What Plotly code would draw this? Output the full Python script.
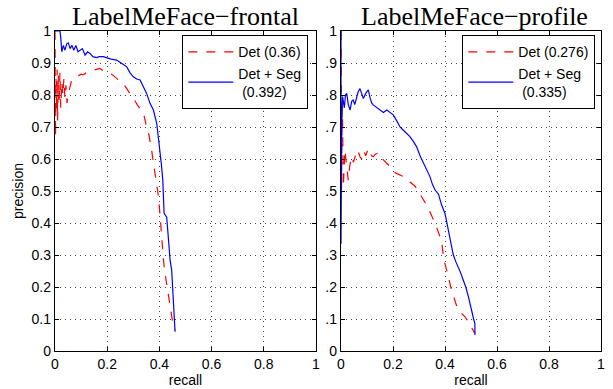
import plotly.graph_objects as go

# ---- data: LabelMeFace-frontal ----
fr_det_r = [0, 0.002, 0.004, 0.006, 0.008, 0.01, 0.013, 0.016, 0.019, 0.022, 0.026, 0.03, 0.034, 0.038,
            0.042, 0.046, 0.05, 0.055, 0.06, 0.064, 0.07, 0.08, 0.09, 0.1, 0.108, 0.12, 0.135, 0.15, 0.165,
            0.172, 0.185, 0.2, 0.21, 0.222, 0.235, 0.25, 0.26, 0.275, 0.29, 0.30, 0.315, 0.33, 0.34, 0.351,
            0.36, 0.37, 0.38, 0.39, 0.395, 0.402, 0.408, 0.415, 0.42, 0.427, 0.434, 0.44, 0.447, 0.453, 0.46]
fr_det_p = [1.0, 0.67, 0.85, 0.75, 0.88, 0.72, 0.86, 0.78, 0.87, 0.76, 0.84, 0.8, 0.85, 0.79,
            0.83, 0.775, 0.8, 0.82, 0.83, 0.847, 0.85, 0.855, 0.86, 0.865, 0.863, 0.87, 0.875, 0.878, 0.882,
            0.883, 0.876, 0.872, 0.868, 0.862, 0.852, 0.842, 0.836, 0.82, 0.80, 0.79, 0.77, 0.75, 0.74, 0.70,
            0.675, 0.628, 0.57, 0.52, 0.49, 0.43, 0.35, 0.29, 0.25, 0.21, 0.17, 0.14, 0.11, 0.081, 0.065]

fr_seg_r = [0, 0.019, 0.022, 0.026, 0.032, 0.038, 0.045, 0.051, 0.058, 0.065, 0.072, 0.08, 0.088, 0.096,
            0.105, 0.115, 0.125, 0.134, 0.145, 0.159, 0.17, 0.185, 0.2, 0.215, 0.236, 0.25, 0.262, 0.275,
            0.287, 0.30, 0.313, 0.326, 0.338, 0.351, 0.364, 0.377, 0.39, 0.396, 0.402, 0.408, 0.413, 0.418,
            0.428, 0.434, 0.441, 0.447, 0.453, 0.457, 0.46]
fr_seg_p = [1.0, 1.0, 0.98, 0.935, 0.955, 0.94, 0.96, 0.963, 0.945, 0.955, 0.94, 0.955, 0.935, 0.94,
            0.945, 0.925, 0.935, 0.93, 0.92, 0.917, 0.92, 0.92, 0.915, 0.912, 0.909, 0.9, 0.895, 0.888,
            0.87, 0.857, 0.85, 0.847, 0.825, 0.805, 0.774, 0.753, 0.71, 0.67, 0.628, 0.58, 0.534, 0.43,
            0.418, 0.35, 0.284, 0.253, 0.17, 0.11, 0.06]

# ---- data: LabelMeFace-profile ----
pr_det_r = [0, 0.002, 0.004, 0.006, 0.009, 0.012, 0.015, 0.02, 0.028, 0.034, 0.041, 0.048, 0.055, 0.062,
            0.068, 0.073, 0.08, 0.088, 0.095, 0.105, 0.112, 0.118, 0.124, 0.132, 0.14, 0.15, 0.16, 0.176,
            0.19, 0.201, 0.215, 0.228, 0.24, 0.255, 0.27, 0.285, 0.297, 0.317, 0.336, 0.35, 0.362, 0.375,
            0.387, 0.396, 0.405, 0.413, 0.422, 0.432, 0.441, 0.451, 0.465, 0.477, 0.49, 0.503, 0.51, 0.515]
pr_det_p = [1.0, 0.5, 0.784, 0.72, 0.513, 0.6, 0.628, 0.59, 0.534, 0.58, 0.607, 0.59, 0.61, 0.6,
            0.62, 0.607, 0.6, 0.625, 0.61, 0.633, 0.62, 0.61, 0.607, 0.615, 0.618, 0.618, 0.6, 0.586,
            0.575, 0.56, 0.555, 0.55, 0.545, 0.535, 0.525, 0.515, 0.50, 0.472, 0.446, 0.42, 0.399, 0.37,
            0.342, 0.284, 0.26, 0.232, 0.2, 0.17, 0.15, 0.128, 0.115, 0.107, 0.09, 0.071, 0.062, 0.055]

pr_seg_r = [0, 0, 0.003, 0.006, 0.009, 0.013, 0.017, 0.022, 0.028, 0.035, 0.041, 0.047, 0.053, 0.06,
            0.066, 0.073, 0.08, 0.086, 0.095, 0.105, 0.112, 0.118, 0.124, 0.137, 0.15, 0.163, 0.176, 0.19,
            0.201, 0.214, 0.227, 0.24, 0.252, 0.265, 0.278, 0.291, 0.304, 0.317, 0.33, 0.342, 0.352, 0.362,
            0.375, 0.387, 0.4, 0.413, 0.422, 0.432, 0.441, 0.451, 0.46, 0.47, 0.48, 0.49, 0.497, 0.503,
            0.51, 0.515, 0.515]
pr_seg_p = [1.0, 0.335, 0.72, 0.795, 0.78, 0.76, 0.8, 0.805, 0.77, 0.753, 0.78, 0.784, 0.77, 0.795,
            0.81, 0.82, 0.8, 0.789, 0.805, 0.816, 0.79, 0.775, 0.769, 0.76, 0.753, 0.745, 0.753, 0.745,
            0.738, 0.72, 0.70, 0.69, 0.68, 0.67, 0.655, 0.638, 0.61, 0.586, 0.565, 0.545, 0.52, 0.503,
            0.49, 0.456, 0.43, 0.378, 0.34, 0.30, 0.28, 0.263, 0.245, 0.222, 0.2, 0.17, 0.145, 0.118,
            0.1, 0.086, 0.05]

titles = ["LabelMeFace\u2212frontal", "LabelMeFace\u2212profile"]
names_fr = ["Det (0.36)", "Det + Seg<br>\u00a0(0.392)"]
names_pr = ["Det (0.276)", "Det + Seg<br>\u00a0(0.335)"]
tick_vals = [0, 0.1, 0.2, 0.3, 0.4, 0.5, 0.6, 0.7, 0.8, 0.9, 1]
x_tick_vals = [0, 0.2, 0.4, 0.6, 0.8, 1]
x_tick_text = ["0", "0.2", "0.4", "0.6", "0.8", "1"]
y_tick_text_left = ["0", "0.1", "0.2", "0.3", "0.4", "0.5", "0.6", "0.7", "0.8", "0.9", "1"]
y_tick_text_right = ["0", ".1", ".2", ".3", ".4", ".5", ".6", ".7", ".8", ".9", "1"]

W, H = 613, 389
SANS = "Liberation Sans, Arial, sans-serif"
SERIF = "Liberation Serif, Times New Roman, serif"
RED = "#ff0000"
BLUE = "#0000ff"

fig = go.Figure()
fig.add_trace(go.Scatter(x=fr_det_r, y=fr_det_p, mode="lines", name=names_fr[0],
                         line=dict(color=RED, width=1.2, dash="dash"), xaxis="x", yaxis="y", legend="legend"))
fig.add_trace(go.Scatter(x=fr_seg_r, y=fr_seg_p, mode="lines", name=names_fr[1],
                         line=dict(color=BLUE, width=1.2), xaxis="x", yaxis="y", legend="legend"))
fig.add_trace(go.Scatter(x=pr_det_r, y=pr_det_p, mode="lines", name=names_pr[0],
                         line=dict(color=RED, width=1.2, dash="dash"), xaxis="x2", yaxis="y2", legend="legend2"))
fig.add_trace(go.Scatter(x=pr_seg_r, y=pr_seg_p, mode="lines", name=names_pr[1],
                         line=dict(color=BLUE, width=1.2), xaxis="x2", yaxis="y2", legend="legend2"))

ax_common = dict(range=[0, 1], showline=True, linecolor="black", linewidth=1.3, mirror="ticks",
                 ticks="inside", ticklen=4, tickcolor="black", showgrid=True, gridcolor="#444444",
                 griddash="1px,4px", gridwidth=1, zeroline=False, automargin=False,
                 tickfont=dict(family=SANS, size=14, color="black"))

xd1 = [55 / W, 316 / W]
xd2 = [341 / W, 601 / W]
yd = [(H - 351) / H, (H - 31) / H]
title_font = dict(family=SANS, size=14, color="black")
legend_common = dict(xanchor="right", yanchor="top", bgcolor="white", bordercolor="black", borderwidth=1.3,
                     font=dict(family=SANS, size=14, color="black"), tracegroupgap=0, itemwidth=45)

fig.update_layout(
    template="none",
    width=W, height=H, margin=dict(l=0, r=0, t=0, b=0, autoexpand=False),
    paper_bgcolor="white", plot_bgcolor="white",
    xaxis=dict(domain=xd1, anchor="y", tickvals=x_tick_vals, ticktext=x_tick_text,
               title=dict(text="recall", font=title_font, standoff=2), **ax_common),
    yaxis=dict(domain=yd, anchor="x", tickvals=tick_vals, ticktext=y_tick_text_left,
               title=dict(text="precision", font=title_font, standoff=4), **ax_common),
    xaxis2=dict(domain=xd2, anchor="y2", tickvals=x_tick_vals, ticktext=x_tick_text,
                title=dict(text="recall", font=title_font, standoff=2), **ax_common),
    yaxis2=dict(domain=yd, anchor="x2", tickvals=tick_vals, ticktext=y_tick_text_right, **ax_common),
    legend=dict(x=308 / W, y=(H - 35) / H, **legend_common),
    legend2=dict(x=595 / W, y=(H - 35) / H, **legend_common),
    showlegend=True,
    annotations=[
        dict(text=titles[0], x=(xd1[0] + xd1[1]) / 2, y=(H - 17) / H, xref="paper", yref="paper",
             showarrow=False, xanchor="center", yanchor="middle",
             font=dict(family=SERIF, size=26, color="black")),
        dict(text=titles[1], x=474 / W, y=(H - 17) / H, xref="paper", yref="paper",
             showarrow=False, xanchor="center", yanchor="middle",
             font=dict(family=SERIF, size=26, color="black")),
    ],
)

fig.write_html("out.html", config={"displayModeBar": False},
               post_script="document.body.style.margin='0';document.body.style.padding='0';"
                           "document.documentElement.style.overflow='hidden';")
